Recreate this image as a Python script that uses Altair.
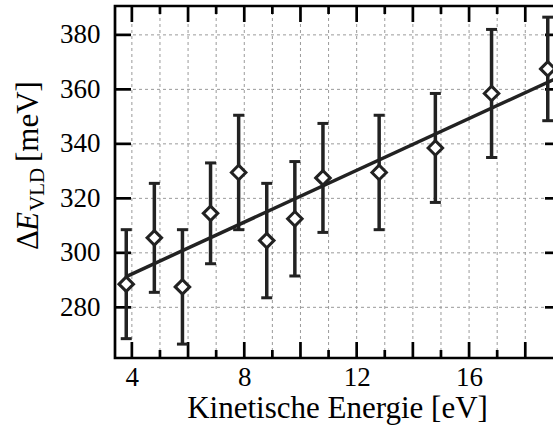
import altair as alt
import pandas as pd

# Measured energy splitting vs. kinetic energy
energy = [3.8, 4.8, 5.8, 6.8, 7.8, 8.8, 9.8, 10.8, 12.8, 14.8, 16.8, 18.8]
delta_e = [288.5, 305.5, 287.5, 314.5, 329.5, 304.5, 312.5, 327.5, 329.5, 338.5, 358.5, 367.5]
delta_err = [20, 20, 21, 18.5, 21, 21, 21, 20, 21, 20, 23.5, 19]

# Linear fit endpoints
fit_x = [3.8, 19.2]
fit_y = [291.3, 364.5]

# Axis ticks / grid
x_labels = [4, 8, 12, 16]
x_major = [4, 6, 8, 10, 12, 14, 16, 18]
x_minor = [5, 7, 9, 11, 13, 15, 17]
x_grid = list(range(4, 19))
y_major = [280, 300, 320, 340, 360, 380]

W, H = 444, 352
X_DOM = [3.4, 19.2]
Y_DOM = [261.4, 390.6]
INK = "#222222"
SERIF = "Liberation Serif"

points = pd.DataFrame({
    "E": energy,
    "dE": delta_e,
    "lo": [v - e for v, e in zip(delta_e, delta_err)],
    "hi": [v + e for v, e in zip(delta_e, delta_err)],
})
fit = pd.DataFrame({"E": fit_x, "dE": fit_y})

xs = alt.Scale(domain=X_DOM, nice=False, zero=False)
ys = alt.Scale(domain=Y_DOM, nice=False, zero=False)

x_axis = alt.Axis(
    values=x_labels, ticks=False, grid=False, domain=False,
    labelFont=SERIF, labelFontSize=27, labelColor="black", labelPadding=6,
    labelFlush=False,
    title="Kinetische Energie [eV]", titleFont=SERIF, titleFontSize=31,
    titleFontWeight="normal", titleColor="black", titlePadding=3,
)
y_axis = alt.Axis(
    values=y_major, ticks=False, grid=False, domain=False,
    labelFont=SERIF, labelFontSize=27, labelColor="black", labelPadding=15,
    labelFlush=False, title=None,
)

def xenc(field="E"):
    return alt.X(f"{field}:Q", scale=xs, axis=x_axis)

def yenc(field="dE"):
    return alt.Y(f"{field}:Q", scale=ys, axis=y_axis)

grid_x = alt.Chart(pd.DataFrame({"E": x_grid})).mark_rule(
    color="#9a9a9a", strokeWidth=1, strokeDash=[3, 3]
).encode(x=xenc(), y=alt.value(0), y2=alt.value(H))

grid_y = alt.Chart(pd.DataFrame({"dE": y_major})).mark_rule(
    color="#9a9a9a", strokeWidth=1, strokeDash=[3, 3]
).encode(y=yenc(), x=alt.value(0), x2=alt.value(W))

tick_style = dict(color="black", strokeWidth=2.7)
ticks = [
    # bottom and top, major and minor
    alt.Chart(pd.DataFrame({"E": x_major})).mark_rule(**tick_style).encode(
        x=xenc(), y=alt.value(H), y2=alt.value(H - 16)),
    alt.Chart(pd.DataFrame({"E": x_minor})).mark_rule(**tick_style).encode(
        x=xenc(), y=alt.value(H), y2=alt.value(H - 8)),
    alt.Chart(pd.DataFrame({"E": x_major})).mark_rule(**tick_style).encode(
        x=xenc(), y=alt.value(0), y2=alt.value(16)),
    alt.Chart(pd.DataFrame({"E": x_minor})).mark_rule(**tick_style).encode(
        x=xenc(), y=alt.value(0), y2=alt.value(8)),
    # left and right
    alt.Chart(pd.DataFrame({"dE": y_major})).mark_rule(**tick_style).encode(
        y=yenc(), x=alt.value(0), x2=alt.value(16)),
    alt.Chart(pd.DataFrame({"dE": y_major})).mark_rule(**tick_style).encode(
        y=yenc(), x=alt.value(W - 14), x2=alt.value(W)),
]

fit_line = alt.Chart(fit).mark_line(color=INK, strokeWidth=3.5, clip=True).encode(
    x=xenc(), y=yenc())

bars = alt.Chart(points).mark_rule(color=INK, strokeWidth=3.5).encode(
    x=xenc(), y=yenc("lo"), y2="hi:Q")

caps_lo = alt.Chart(points).mark_tick(
    color=INK, orient="horizontal", size=11, thickness=3, opacity=1
).encode(x=xenc(), y=yenc("lo"))
caps_hi = alt.Chart(points).mark_tick(
    color=INK, orient="horizontal", size=11, thickness=3, opacity=1
).encode(x=xenc(), y=yenc("hi"))

diamonds = alt.Chart(points).mark_point(
    shape="diamond", size=210, filled=False, fill="white", fillOpacity=1,
    stroke=INK, strokeWidth=3, opacity=1
).encode(x=xenc(), y=yenc())

# y-axis title: Delta E_VLD [meV], built from pieces (italic E, subscript VLD)
title_parts = pd.DataFrame({"t": [0]})
def title_piece(text, y, x, size, style="normal"):
    return alt.Chart(title_parts).mark_text(
        text=text, font=SERIF, fontSize=size, fontStyle=style, color="black",
        angle=270, align="left", baseline="alphabetic",
    ).encode(x=alt.value(x), y=alt.value(y))

ytitle = [
    title_piece("\u0394", 244, -77, 31),
    title_piece("E", 225, -77, 31, "italic"),
    title_piece("VLD", 205, -71, 21),
    title_piece("[meV]", 156, -77, 31),
]

chart = alt.layer(
    grid_x, grid_y, *ticks, fit_line, bars, caps_lo, caps_hi, diamonds, *ytitle
).properties(
    width=W, height=H,
    autosize=alt.AutoSizeParams(type="none"),
    padding={"left": 115, "top": 6, "right": -6, "bottom": 70},
    background="white",
).configure_view(stroke="black", strokeWidth=2.7)

chart.save("out.html", embed_options={"renderer": "svg", "actions": False})
